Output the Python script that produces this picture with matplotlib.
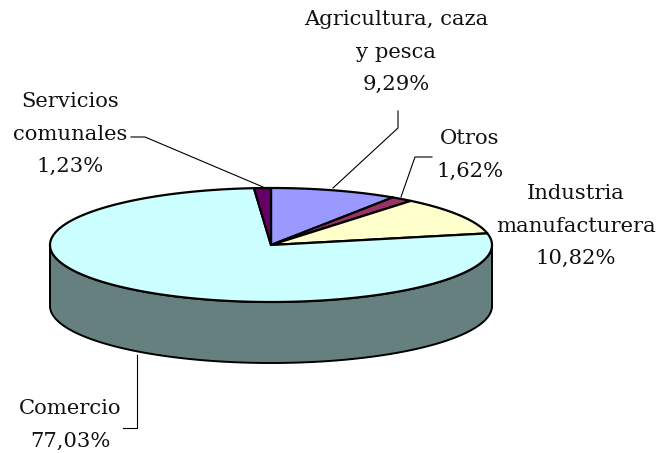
import numpy as np
import matplotlib
matplotlib.use("Agg")
import matplotlib.pyplot as plt

names = ["Agricultura, caza\ny pesca", "Otros", "Industria\nmanufacturera", "Comercio", "Servicios\ncomunales"]
shares = [9.29, 1.62, 10.82, 77.03, 1.23]
labels = ["9,29%", "1,62%", "10,82%", "77,03%", "1,23%"]
top_colors = ["#9999ff", "#993366", "#ffffcc", "#ccffff", "#660066"]
side_colors = ["#5c5c99", "#5c1f3d", "#99997a", "#667f7f", "#3d003d"]

# where each label sits and the leader line that goes with it
label_pos = [(396, 52), (470, 155), (576, 226), (70, 425), (70, 134)]
leaders = [
    [(333, 188), (398, 128), (398, 111)],
    [(401, 197), (415, 157), (432, 157)],
    None,
    [(137, 355), (137, 428), (123, 428)],
    [(263, 187), (145, 137), (131, 137)],
]

cx, cy = 271, 245
rx, ry = 221, 57
depth = 61

fig = plt.figure(figsize=(6.57, 4.53), dpi=100)
ax = fig.add_axes([0, 0, 1, 1])
ax.set_xlim(0, 657)
ax.set_ylim(453, 0)
ax.axis("off")


def rim(a0, a1):
    # angles are clockwise from the top of the pie, in degrees
    t = np.radians(np.linspace(a0, a1, 200))
    return cx + rx * np.sin(t), cy - ry * np.cos(t)


edges = np.concatenate([[0], np.cumsum(shares)]) * 3.6 / (sum(shares) / 100)

# side wall, only the front half of the rim can be seen
for i in range(len(shares)):
    a0 = max(edges[i], 90)
    a1 = min(edges[i + 1], 270)
    if a1 <= a0:
        continue
    x, y = rim(a0, a1)
    ax.fill(np.r_[x, x[::-1]], np.r_[y, y[::-1] + depth], fc=side_colors[i], ec="black", lw=1.4, zorder=2)

# top of the pie
for i in range(len(shares)):
    x, y = rim(edges[i], edges[i + 1])
    ax.fill(np.r_[cx, x], np.r_[cy, y], fc=top_colors[i], ec="black", lw=1.6, joinstyle="round", zorder=3)

for line in leaders:
    if line is not None:
        xs, ys = zip(*line)
        ax.plot(xs, ys, color="black", lw=0.8, zorder=4)

for name, lab, (x, y) in zip(names, labels, label_pos):
    ax.text(x, y, name + "\n" + lab, ha="center", va="center", family="DejaVu Serif",
            fontsize=15.2, linespacing=1.87, color="#111111", zorder=5)

fig.savefig("out.png", dpi=100)
